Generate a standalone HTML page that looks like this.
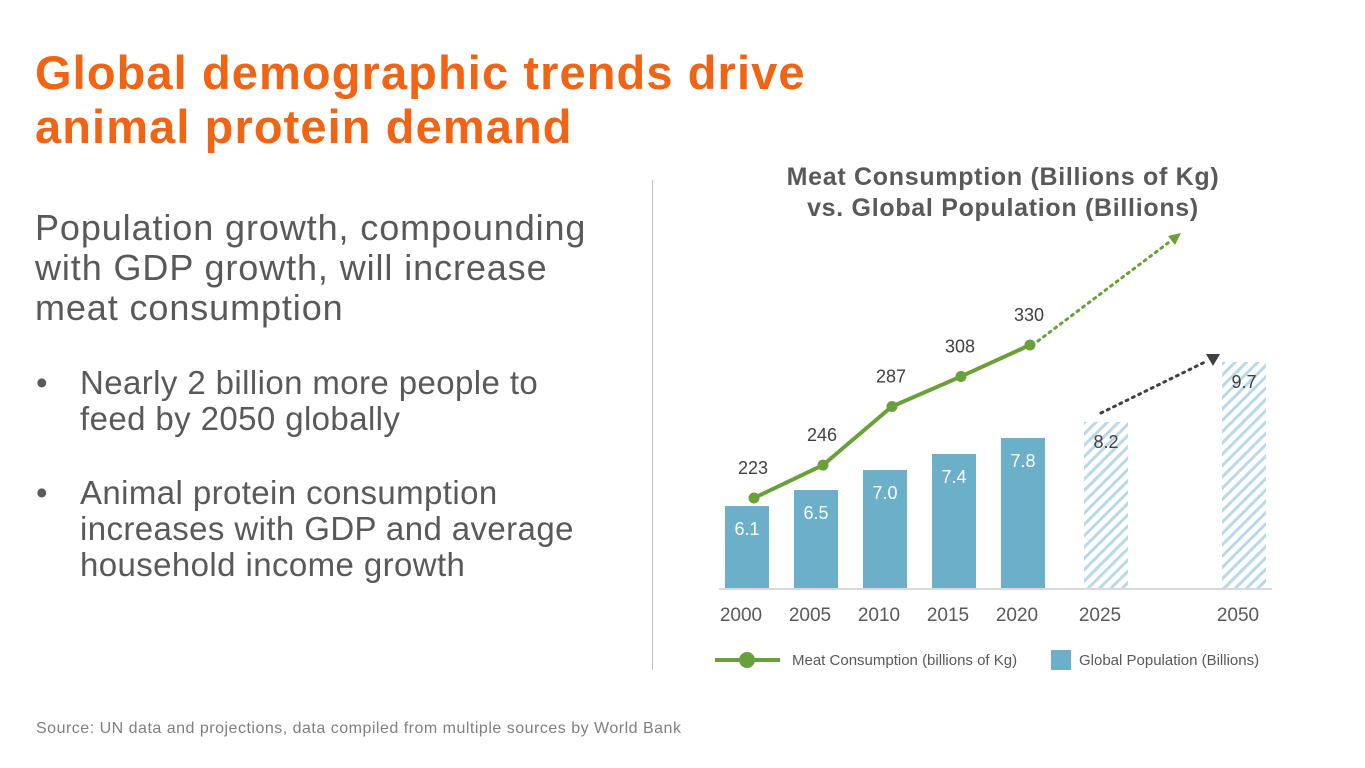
<!DOCTYPE html>
<html><head><meta charset="utf-8"><style>
body{margin:0;width:1365px;height:768px;background:#fff;font-family:"Liberation Sans",Arial,sans-serif;position:relative;overflow:hidden}
.a{position:absolute;white-space:nowrap}
#title{left:35px;top:46px;font-size:47px;letter-spacing:1.1px;font-weight:bold;color:#f06414;line-height:54px}
#lead{left:35px;top:208px;font-size:36px;letter-spacing:0.9px;color:#595959;line-height:40px}
.bul{font-size:33px;letter-spacing:0.4px;color:#595959;line-height:36px;left:36px}
.bul span{position:absolute;left:0}
.bul div{margin-left:44px}
#src{left:36px;top:720px;font-size:16px;letter-spacing:0.5px;color:#7f7f7f}
#div{left:652px;top:180px;width:1px;height:490px;background:#bfbfbf}
</style></head><body>
<div class="a" id="title">Global demographic trends drive<br>animal protein demand</div>
<div class="a" id="lead">Population growth, compounding<br>with GDP growth, will increase<br>meat consumption</div>
<div class="a bul" style="top:365px"><span>•</span><div>Nearly 2 billion more people to<br>feed by 2050 globally</div></div>
<div class="a bul" style="top:475px"><span>•</span><div>Animal protein consumption<br>increases with GDP and average<br>household income growth</div></div>
<div class="a" id="src">Source: UN data and projections, data compiled from multiple sources by World Bank</div>
<div class="a" id="div"></div>
<svg class="a" style="left:0;top:0" width="1365" height="768" id="chart">
<defs><pattern id="hatch" width="8" height="8" patternUnits="userSpaceOnUse" patternTransform="rotate(45)"><rect width="8" height="8" fill="#fff"/><rect width="3" height="8" fill="#b9d9e6"/></pattern></defs>
<text x="1003" y="185" text-anchor="middle" font-size="25" letter-spacing="0.7" font-weight="bold" fill="#595959">Meat Consumption (Billions of Kg)</text>
<text x="1003" y="216" text-anchor="middle" font-size="25" letter-spacing="0.7" font-weight="bold" fill="#595959">vs. Global Population (Billions)</text>
<line x1="719" y1="589" x2="1272" y2="589" stroke="#d9d9d9" stroke-width="2"/>
<g id="g"></g>
</svg>
<script>
const years=["2000","2005","2010","2015","2020","2025","2050"];
const population=[6.1,6.5,7.0,7.4,7.8,8.2,9.7];
const projected=[false,false,false,false,false,true,true];
const meatYears=["2000","2005","2010","2015","2020"];
const meat=[223,246,287,308,330];
const xc={"2000":747,"2005":816,"2010":885,"2015":954,"2020":1023,"2025":1106,"2050":1244};
function xPos(c){return xc[c];}
function yPop(v){return 506-(v-6.1)*40;}
function yMeat(v){return 498-(v-223)*1.43;}
const NS="http://www.w3.org/2000/svg",g=document.getElementById('g');
function mk(t,a){const e=document.createElementNS(NS,t);for(const k in a)e.setAttribute(k,a[k]);g.appendChild(e);return e;}
years.forEach((y,i)=>{
 const v=population[i],top=yPop(v),x=xPos(y);
 const r=mk('rect',{x:x-22,y:top,width:44,height:588-top,fill:projected[i]?'url(#hatch)':'#6bafc9'});
 
 
 const t=mk('text',{x:x,y:top+(projected[i]?26:29),'text-anchor':'middle','font-size':18,fill:projected[i]?'#404040':'#fff'});
 t.textContent=v.toFixed(1);
 
 
 const l=mk('text',{x:x-6,y:621,'text-anchor':'middle','font-size':19,fill:'#595959'});
 l.textContent=y;
 
 
});
const pts=meatYears.map((y,i)=>[xPos(y)+7,yMeat(meat[i])]);
const pl=mk('polyline',{points:pts.map(p=>p.join(',')).join(' '),fill:'none',stroke:'#69a03a','stroke-width':4});


pts.forEach((p,i)=>{
 const c=mk('circle',{cx:p[0],cy:p[1],r:5.5,fill:'#69a03a'});
 
 
 const t=mk('text',{x:p[0]-1,y:p[1]-24,'text-anchor':'middle','font-size':18,fill:'#404040'});
 t.textContent=meat[i];
 
 
});
const last=pts[pts.length-1];
const ga=mk('line',{x1:last[0]+8,y1:last[1]-4,x2:1172,y2:240,stroke:'#69a03a','stroke-width':3,'stroke-dasharray':'2 5','stroke-linecap':'round'});


const gh=mk('polygon',{points:'1181,233 1168,236 1175,245',fill:'#69a03a'});


const pa=mk('line',{x1:1101,y1:413,x2:1205,y2:362,stroke:'#404040','stroke-width':3,'stroke-dasharray':'2 5','stroke-linecap':'round'});


const ph=mk('polygon',{points:'1206,354 1220,354 1213,366',fill:'#404040'});


const ll=mk('line',{x1:715,y1:660,x2:780,y2:660,stroke:'#69a03a','stroke-width':4});


const lc=mk('circle',{cx:747,cy:660,r:8,fill:'#69a03a'});


const lt=mk('text',{x:792,y:665,'font-size':15,fill:'#595959'});
lt.textContent='Meat Consumption (billions of Kg)';


const lr=mk('rect',{x:1051,y:650,width:20,height:20,fill:'#6bafc9'});


const lt2=mk('text',{x:1079,y:665,'font-size':15,fill:'#595959'});
lt2.textContent='Global Population (Billions)';


</script>
</body></html>
